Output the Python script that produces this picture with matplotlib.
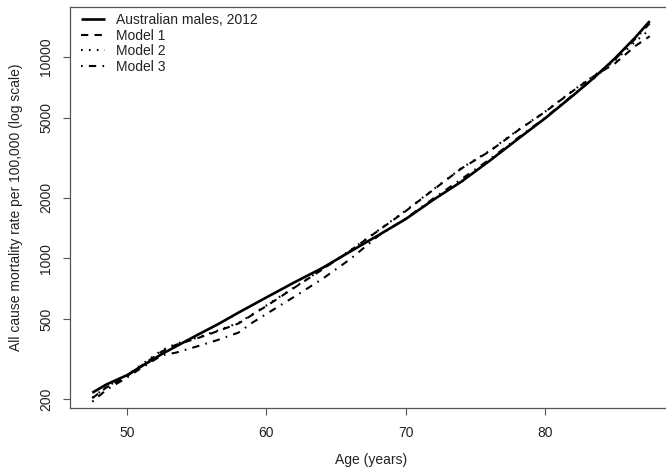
import matplotlib
matplotlib.use("Agg")
import matplotlib.pyplot as plt
from matplotlib.ticker import FixedLocator, NullLocator

# Australian males 2012, all-cause mortality per 100,000
ages_obs = [47.5, 48.5, 50, 51, 52.5, 53.5, 55, 56.5, 58, 60, 62, 64, 66,
            68, 70, 72, 74, 76, 78, 80, 82, 83.5, 85, 86.5, 87.5]
rate_obs = [215, 236, 263, 290, 335, 365, 415, 470, 538, 640, 760, 895, 1080,
            1300, 1570, 1960, 2410, 3050, 3900, 4970, 6450, 7900, 9850, 12600, 15100]

ages_mod = [47.5, 48.5, 50, 51, 52.5, 53.5, 55, 56.5, 58, 59, 60, 62, 64, 66,
            68, 70, 72, 74, 76, 78, 80, 82, 83.5, 85, 86.5, 87.5]
model1 = [202, 228, 260, 292, 345, 372, 400, 435, 475, 525, 580, 715, 880, 1090,
          1370, 1720, 2200, 2800, 3400, 4300, 5350, 6800, 8050, 9300, 11400, 12700]
model2 = [203, 230, 262, 295, 350, 376, 403, 438, 478, 528, 584, 718, 885, 1095,
          1375, 1730, 2210, 2810, 3420, 4320, 5370, 6830, 8100, 9600, 12000, 13700]
model3 = [194, 222, 256, 285, 330, 340, 365, 393, 428, 480, 530, 645, 790, 990,
          1290, 1580, 1990, 2480, 3100, 3950, 5000, 6500, 7850, 9750, 12400, 14700]

y_ticks = [200, 500, 1000, 2000, 5000, 10000]
x_ticks = [50, 60, 70, 80]

TEXT = "#222222"
AXIS = "#555555"

plt.rcParams["font.family"] = ["Liberation Sans", "DejaVu Sans"]
plt.rcParams["font.size"] = 10

fig = plt.figure(figsize=(6.66, 4.70), dpi=100)
ax = fig.add_axes([70 / 666, 62 / 470, 602 / 666, 401 / 470])

ax.plot(ages_obs, rate_obs, color="black", linewidth=1.9, solid_capstyle="butt",
        solid_joinstyle="round", label="Australian males, 2012")
ax.plot(ages_mod, model1, color="black", linewidth=1.5, linestyle=(0, (3.5, 3)),
        label="Model 1")
ax.plot(ages_mod, model2, color="black", linewidth=1.5, linestyle=(0, (0.8, 3)),
        label="Model 2")
ax.plot(ages_mod, model3, color="black", linewidth=1.5, linestyle=(0, (0.8, 3, 3.5, 3)),
        label="Model 3")

ax.set_yscale("log")
ax.set_xlim(45.9, 89.1)
ax.set_ylim(180.5, 17750)

ax.xaxis.set_major_locator(FixedLocator(x_ticks))
ax.yaxis.set_major_locator(FixedLocator(y_ticks))
ax.yaxis.set_minor_locator(NullLocator())
ax.set_xticklabels([str(t) for t in x_ticks])
ax.set_yticklabels([str(t) for t in y_ticks], rotation=90, va="center")
ax.tick_params(axis="both", direction="out", length=5, width=0.8, color=AXIS,
               labelcolor=TEXT, labelsize=10)
ax.tick_params(axis="x", pad=8)
ax.tick_params(axis="y", pad=7)

for side in ["left", "bottom", "top", "right"]:
    ax.spines[side].set_color(AXIS)
    ax.spines[side].set_linewidth(0.9)

ax.set_xlabel("Age (years)", color=TEXT, labelpad=9)
ax.set_ylabel("All cause mortality rate per 100,000 (log scale)", color=TEXT, labelpad=12)

leg = ax.legend(loc="upper left", bbox_to_anchor=(0.018, 0.985), frameon=False,
                borderpad=0, borderaxespad=0, handlelength=1.75, handletextpad=0.8,
                labelspacing=0.12, fontsize=10)
for txt in leg.get_texts():
    txt.set_color(TEXT)

fig.savefig("out.png", dpi=100)
